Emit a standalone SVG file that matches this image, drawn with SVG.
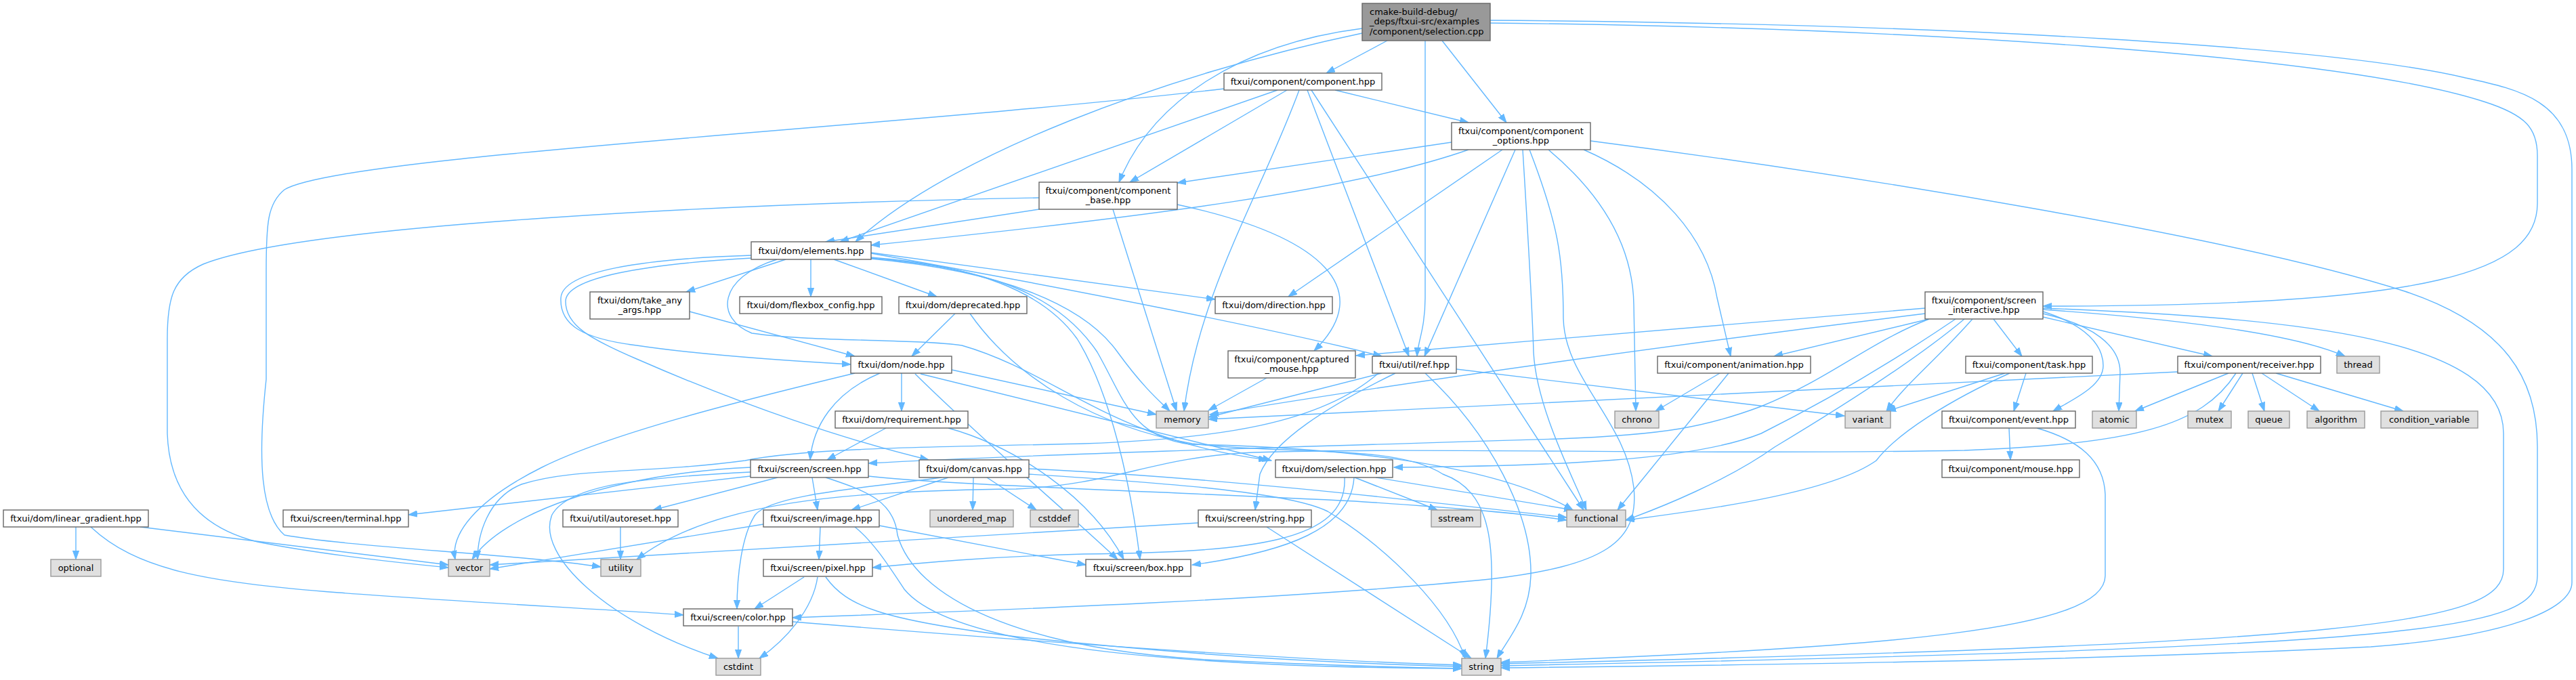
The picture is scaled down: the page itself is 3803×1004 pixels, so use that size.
<svg xmlns="http://www.w3.org/2000/svg" width="3803" height="1004" viewBox="0 0 3803 1004">
<style>
.e{fill:none;stroke:#63b8ff;stroke-width:1.4;marker-end:url(#a)}
rect{stroke-width:1.4}
.n rect{fill:#ffffff;stroke:#666666}
.g rect{fill:#e0e0e0;stroke:#999999}
.m rect{fill:#999999;stroke:#666666}
text{font-family:"DejaVu Sans","Liberation Sans",sans-serif;font-size:13px;fill:#000000;text-anchor:middle}
.m text{text-anchor:start}
</style>
<defs>
<marker id="a" markerUnits="userSpaceOnUse" markerWidth="14" markerHeight="10" refX="13" refY="5" orient="auto">
<path d="M0,0.4 L13,5 L0,9.6 z" fill="#63b8ff" stroke="#63b8ff" stroke-width="1"/>
</marker>
</defs>
<rect x="0" y="0" width="3803" height="1004" fill="#ffffff" stroke="none"/>
<g id="edges">
<path class="e" d="M2048,60 L1958,108"/>
<path class="e" d="M2129,60 L2224,181"/>
<path class="e" d="M2104,60 L2104,440 C2104,485 2093,505 2092,526"/>
<path class="e" d="M2011,42 C1830,65 1700,150 1652,269"/>
<path class="e" d="M2011,49 C1720,110 1400,230 1263,357"/>
<path class="e" d="M2200,34 C2800,40 3450,80 3667,150 C3730,170 3746,190 3746,230 L3746,300 C3746,400 3600,452 3016,452"/>
<path class="e" d="M2200,30 C2900,35 3450,70 3640,115 C3720,132 3797,150 3797,250 L3797,860 C3797,900 3700,940 3500,955 C3100,975 2600,982 2216,986"/>
<path class="e" d="M1900,133 L1668,269"/>
<path class="e" d="M1971,133 L2168,181"/>
<path class="e" d="M1886,133 L1240,357"/>
<path class="e" d="M1918,133 C1860,290 1770,430 1748,607"/>
<path class="e" d="M1930,133 L2080,526"/>
<path class="e" d="M1936,133 L2338,753"/>
<path class="e" d="M1807,131 C1300,190 500,230 420,280 C395,300 393,330 393,400 L393,560 C380,680 385,760 420,790 C520,808 760,818 887,837"/>
<path class="e" d="M1534,309 L1219,357"/>
<path class="e" d="M1643,309 L1737,607"/>
<path class="e" d="M1738,302 C1960,350 2030,430 1940,518"/>
<path class="e" d="M1534,292 C1100,300 450,330 300,390 C255,410 247,440 247,500 L247,640 C250,730 300,780 380,800 C480,820 600,832 662,838"/>
<path class="e" d="M2143,210 L1738,270"/>
<path class="e" d="M2168,221 C2000,280 1700,320 1286,362"/>
<path class="e" d="M2218,221 L1902,438"/>
<path class="e" d="M2237,221 L2103,526"/>
<path class="e" d="M2248,221 C2256,350 2262,450 2264,520 C2268,600 2320,700 2342,753"/>
<path class="e" d="M2258,221 C2300,330 2308,380 2308,470 C2310,560 2400,620 2412,720 C2420,800 2370,835 2200,855 C1900,885 1500,900 1170,912"/>
<path class="e" d="M2286,221 C2380,300 2411,380 2412,450 L2415,607"/>
<path class="e" d="M2338,221 C2450,270 2520,350 2535,440 L2555,526"/>
<path class="e" d="M2348,208 C2750,260 3300,350 3550,430 C3700,480 3746,560 3746,660 L3746,850 C3746,930 3600,955 2216,983"/>
<path class="e" d="M2943,471 L2985,526"/>
<path class="e" d="M3016,468 L3266,526"/>
<path class="e" d="M3016,457 C3200,470 3380,490 3462,526"/>
<path class="e" d="M3016,463 C3090,480 3130,510 3130,550 L3128,607"/>
<path class="e" d="M3016,460 C3080,480 3105,510 3105,540 C3105,570 3060,590 3031,607"/>
<path class="e" d="M2912,471 C2860,530 2810,570 2785,607"/>
<path class="e" d="M2848,471 L2619,526"/>
<path class="e" d="M2842,455 L2002,525"/>
<path class="e" d="M2842,463 C2500,505 2100,560 1786,612"/>
<path class="e" d="M2848,471 C2760,505 2700,560 2600,600 C2520,630 2460,642 2300,648 C1900,660 1500,672 1282,684"/>
<path class="e" d="M2887,471 C2800,530 2700,590 2600,640 C2500,680 2300,688 2058,690"/>
<path class="e" d="M2900,471 C2830,530 2720,600 2620,660 C2550,710 2450,750 2400,768"/>
<path class="e" d="M3016,455 C3400,470 3696,500 3696,640 L3696,840 C3696,920 3500,950 2216,980"/>
<path class="e" d="M2960,551 L2786,607"/>
<path class="e" d="M2991,551 L2973,607"/>
<path class="e" d="M2967,551 C2880,590 2800,640 2770,680 C2700,730 2500,755 2400,768"/>
<path class="e" d="M3290,551 L3152,607"/>
<path class="e" d="M3311,551 L3275,607"/>
<path class="e" d="M3325,551 L3343,607"/>
<path class="e" d="M3339,551 L3424,607"/>
<path class="e" d="M3360,551 L3548,607"/>
<path class="e" d="M3215,549 L1784,619"/>
<path class="e" d="M3301,551 C3250,630 3150,655 2900,665 C2500,672 2100,660 1850,668 C1700,675 1650,715 1500,722 C1250,725 1050,740 940,826"/>
<path class="e" d="M2966,632 L2968,679"/>
<path class="e" d="M3007,632 C3070,650 3106,680 3108,730 L3108,850 C3108,930 2800,955 2216,978"/>
<path class="e" d="M2060,551 C1960,600 1880,650 1860,700 L1853,753"/>
<path class="e" d="M2040,551 L1784,616"/>
<path class="e" d="M2104,551 C2200,640 2262,760 2260,850 C2258,910 2225,945 2210,972"/>
<path class="e" d="M2150,545 C2400,575 2600,600 2723,614"/>
<path class="e" d="M2035,551 C1950,625 1800,648 1600,655 C1400,660 1200,660 1100,680 C950,700 850,690 770,715 C720,735 705,790 705,826"/>
<path class="e" d="M1870,778 L2172,972"/>
<path class="e" d="M1769,772 L723,834"/>
<path class="e" d="M2000,705 L2122,753"/>
<path class="e" d="M2031,705 L2322,753"/>
<path class="e" d="M1999,705 C1995,780 1900,815 1760,834"/>
<path class="e" d="M1985,705 C1990,800 1850,815 1600,818 C1450,822 1350,832 1288,838"/>
<path class="e" d="M1437,705 L1436,753"/>
<path class="e" d="M1457,705 L1530,753"/>
<path class="e" d="M1519,692 C1800,705 2100,740 2313,764"/>
<path class="e" d="M1519,700 C1700,712 1900,725 1960,755 C2050,810 2140,900 2163,972"/>
<path class="e" d="M1390,705 C1280,720 1140,730 1115,760 C1095,790 1088,850 1088,899"/>
<path class="e" d="M1400,705 L1257,753"/>
<path class="e" d="M1108,690 C900,700 740,760 697,826"/>
<path class="e" d="M1108,697 C950,705 840,715 815,760 C790,820 900,920 1060,972"/>
<path class="e" d="M1108,703 L603,760"/>
<path class="e" d="M1148,705 L964,753"/>
<path class="e" d="M1199,705 L1207,753"/>
<path class="e" d="M1282,703 C1400,716 1700,725 2000,740 C2150,750 2250,758 2313,768"/>
<path class="e" d="M1219,705 C1280,725 1320,740 1325,790 C1350,880 1500,960 1800,975 C1950,982 2050,985 2158,987"/>
<path class="e" d="M1127,774 L723,840"/>
<path class="e" d="M1211,778 L1209,826"/>
<path class="e" d="M1298,776 L1603,834"/>
<path class="e" d="M1262,778 C1290,800 1315,840 1335,870 C1400,950 1700,985 2158,987"/>
<path class="e" d="M1187,852 L1114,899"/>
<path class="e" d="M1207,852 C1200,900 1160,945 1121,972"/>
<path class="e" d="M1219,852 C1250,895 1300,915 1500,940 C1800,972 2000,980 2158,984"/>
<path class="e" d="M1090,925 L1090,972"/>
<path class="e" d="M1170,918 C1500,945 1900,975 2158,982"/>
<path class="e" d="M112,778 L112,826"/>
<path class="e" d="M207,778 L662,834"/>
<path class="e" d="M134,778 C200,840 300,860 500,875 C700,890 900,900 1009,908"/>
<path class="e" d="M916,778 L916,826"/>
<path class="e" d="M2539,551 L2444,607"/>
<path class="e" d="M2552,551 L2388,753"/>
<path class="e" d="M1870,558 L1784,606"/>
<path class="e" d="M1018,460 L1262,526"/>
<path class="e" d="M1410,463 L1346,526"/>
<path class="e" d="M1432,463 C1500,560 1620,630 1760,655 C1900,672 2060,655 2130,700 C2200,725 2215,800 2193,972"/>
<path class="e" d="M1110,377 C950,382 830,400 828,440 C826,480 860,500 940,510 C1020,522 1150,532 1256,538"/>
<path class="e" d="M1110,381 C950,390 835,410 835,445 C835,480 870,500 940,530 C1100,600 1250,650 1371,679"/>
<path class="e" d="M1286,380 C1440,392 1540,430 1590,500 C1640,580 1670,720 1683,826"/>
<path class="e" d="M1286,382 C1480,400 1600,450 1650,520 C1690,575 1715,595 1727,607"/>
<path class="e" d="M1286,381 C1450,395 1560,430 1620,520 C1660,590 1670,645 1757,656 C1950,660 2200,680 2322,753"/>
<path class="e" d="M1147,383 C1060,410 1055,470 1110,492 C1200,505 1350,500 1420,510 C1560,550 1640,650 1871,679"/>
<path class="e" d="M1160,383 L1013,431"/>
<path class="e" d="M1197,383 L1197,438"/>
<path class="e" d="M1231,383 L1383,438"/>
<path class="e" d="M1286,373 L1794,442"/>
<path class="e" d="M1286,374 C1600,430 1900,490 2040,526"/>
<path class="e" d="M1262,551 C1100,590 900,640 800,690 C700,740 665,790 672,826"/>
<path class="e" d="M1299,551 C1230,580 1200,630 1196,679"/>
<path class="e" d="M1331,551 L1331,607"/>
<path class="e" d="M1405,546 L1707,612"/>
<path class="e" d="M1359,552 L1877,680"/>
<path class="e" d="M1351,552 C1450,650 1580,760 1650,826"/>
<path class="e" d="M1308,632 L1221,679"/>
<path class="e" d="M1400,632 C1500,660 1610,733 1659,826"/>
</g>
<g id="n_main" class="m"><rect x="2011" y="5" width="189" height="55"/><text x="2022" y="21.5">cmake-build-debug/</text><text x="2022" y="36">_deps/ftxui-src/examples</text><text x="2022" y="50.5">/component/selection.cpp</text></g>
<g id="n_component" class="n"><rect x="1807" y="108" width="233" height="25"/><text x="1923.5" y="125">ftxui/component/component.hpp</text></g>
<g id="n_component_options" class="n"><rect x="2143" y="181" width="205" height="40"/><text x="2245.5" y="197.5">ftxui/component/component</text><text x="2245.5" y="212">_options.hpp</text></g>
<g id="n_component_base" class="n"><rect x="1534" y="269" width="204" height="40"/><text x="1636" y="285.5">ftxui/component/component</text><text x="1636" y="300">_base.hpp</text></g>
<g id="n_elements" class="n"><rect x="1109" y="357" width="177" height="26"/><text x="1197.5" y="374.5">ftxui/dom/elements.hpp</text></g>
<g id="n_take_any_args" class="n"><rect x="871" y="431" width="147" height="40"/><text x="944.5" y="447.5">ftxui/dom/take_any</text><text x="944.5" y="462">_args.hpp</text></g>
<g id="n_flexbox_config" class="n"><rect x="1092" y="438" width="210" height="25"/><text x="1197" y="455">ftxui/dom/flexbox_config.hpp</text></g>
<g id="n_deprecated" class="n"><rect x="1327" y="438" width="189" height="25"/><text x="1421.5" y="455">ftxui/dom/deprecated.hpp</text></g>
<g id="n_direction" class="n"><rect x="1794" y="438" width="173" height="25"/><text x="1880.5" y="455">ftxui/dom/direction.hpp</text></g>
<g id="n_screen_interactive" class="n"><rect x="2842" y="431" width="174" height="40"/><text x="2929" y="447.5">ftxui/component/screen</text><text x="2929" y="462">_interactive.hpp</text></g>
<g id="n_node" class="n"><rect x="1256" y="526" width="149" height="25"/><text x="1330.5" y="543">ftxui/dom/node.hpp</text></g>
<g id="n_captured_mouse" class="n"><rect x="1813" y="518" width="188" height="40"/><text x="1907" y="534.5">ftxui/component/captured</text><text x="1907" y="549">_mouse.hpp</text></g>
<g id="n_ref" class="n"><rect x="2026" y="526" width="124" height="25"/><text x="2088" y="543">ftxui/util/ref.hpp</text></g>
<g id="n_animation" class="n"><rect x="2447" y="526" width="226" height="25"/><text x="2560" y="543">ftxui/component/animation.hpp</text></g>
<g id="n_task" class="n"><rect x="2902" y="526" width="187" height="25"/><text x="2995.5" y="543">ftxui/component/task.hpp</text></g>
<g id="n_receiver" class="n"><rect x="3215" y="526" width="211" height="25"/><text x="3320.5" y="543">ftxui/component/receiver.hpp</text></g>
<g id="n_thread" class="g"><rect x="3450" y="526" width="63" height="25"/><text x="3481.5" y="543">thread</text></g>
<g id="n_requirement" class="n"><rect x="1233" y="607" width="196" height="25"/><text x="1331" y="624">ftxui/dom/requirement.hpp</text></g>
<g id="n_memory" class="g"><rect x="1707" y="607" width="77" height="25"/><text x="1745.5" y="624">memory</text></g>
<g id="n_chrono" class="g"><rect x="2384" y="607" width="65" height="25"/><text x="2416.5" y="624">chrono</text></g>
<g id="n_variant" class="g"><rect x="2724" y="607" width="67" height="25"/><text x="2757.5" y="624">variant</text></g>
<g id="n_event" class="n"><rect x="2867" y="607" width="197" height="25"/><text x="2965.5" y="624">ftxui/component/event.hpp</text></g>
<g id="n_atomic" class="g"><rect x="3089" y="607" width="65" height="25"/><text x="3121.5" y="624">atomic</text></g>
<g id="n_mutex" class="g"><rect x="3230" y="607" width="64" height="25"/><text x="3262" y="624">mutex</text></g>
<g id="n_queue" class="g"><rect x="3319" y="607" width="61" height="25"/><text x="3349.5" y="624">queue</text></g>
<g id="n_algorithm" class="g"><rect x="3406" y="607" width="85" height="25"/><text x="3448.5" y="624">algorithm</text></g>
<g id="n_condition_variable" class="g"><rect x="3515" y="607" width="143" height="25"/><text x="3586.5" y="624">condition_variable</text></g>
<g id="n_screen" class="n"><rect x="1108" y="679" width="174" height="26"/><text x="1195" y="696.5">ftxui/screen/screen.hpp</text></g>
<g id="n_canvas" class="n"><rect x="1357" y="679" width="162" height="26"/><text x="1438" y="696.5">ftxui/dom/canvas.hpp</text></g>
<g id="n_selection" class="n"><rect x="1883" y="679" width="173" height="26"/><text x="1969.5" y="696.5">ftxui/dom/selection.hpp</text></g>
<g id="n_mouse" class="n"><rect x="2867" y="679" width="203" height="26"/><text x="2968.5" y="696.5">ftxui/component/mouse.hpp</text></g>
<g id="n_linear_gradient" class="n"><rect x="5" y="753" width="214" height="25"/><text x="112" y="770">ftxui/dom/linear_gradient.hpp</text></g>
<g id="n_terminal" class="n"><rect x="418" y="753" width="185" height="25"/><text x="510.5" y="770">ftxui/screen/terminal.hpp</text></g>
<g id="n_autoreset" class="n"><rect x="831" y="753" width="170" height="25"/><text x="916" y="770">ftxui/util/autoreset.hpp</text></g>
<g id="n_image" class="n"><rect x="1127" y="753" width="171" height="25"/><text x="1212.5" y="770">ftxui/screen/image.hpp</text></g>
<g id="n_unordered_map" class="g"><rect x="1373" y="753" width="123" height="25"/><text x="1434.5" y="770">unordered_map</text></g>
<g id="n_cstddef" class="g"><rect x="1521" y="753" width="71" height="25"/><text x="1556.5" y="770">cstddef</text></g>
<g id="n_string_hpp" class="n"><rect x="1769" y="753" width="167" height="25"/><text x="1852.5" y="770">ftxui/screen/string.hpp</text></g>
<g id="n_sstream" class="g"><rect x="2113" y="753" width="73" height="25"/><text x="2149.5" y="770">sstream</text></g>
<g id="n_functional" class="g"><rect x="2313" y="753" width="87" height="25"/><text x="2356.5" y="770">functional</text></g>
<g id="n_optional" class="g"><rect x="75" y="826" width="74" height="25"/><text x="112" y="843">optional</text></g>
<g id="n_vector" class="g"><rect x="662" y="826" width="61" height="25"/><text x="692.5" y="843">vector</text></g>
<g id="n_utility" class="g"><rect x="887" y="826" width="59" height="25"/><text x="916.5" y="843">utility</text></g>
<g id="n_pixel" class="n"><rect x="1127" y="826" width="161" height="25"/><text x="1207.5" y="843">ftxui/screen/pixel.hpp</text></g>
<g id="n_box" class="n"><rect x="1603" y="826" width="155" height="25"/><text x="1680.5" y="843">ftxui/screen/box.hpp</text></g>
<g id="n_color" class="n"><rect x="1009" y="899" width="161" height="25"/><text x="1089.5" y="916">ftxui/screen/color.hpp</text></g>
<g id="n_cstdint" class="g"><rect x="1057" y="972" width="66" height="25"/><text x="1090" y="989">cstdint</text></g>
<g id="n_string" class="g"><rect x="2158" y="972" width="58" height="25"/><text x="2187" y="989">string</text></g>
</svg>
